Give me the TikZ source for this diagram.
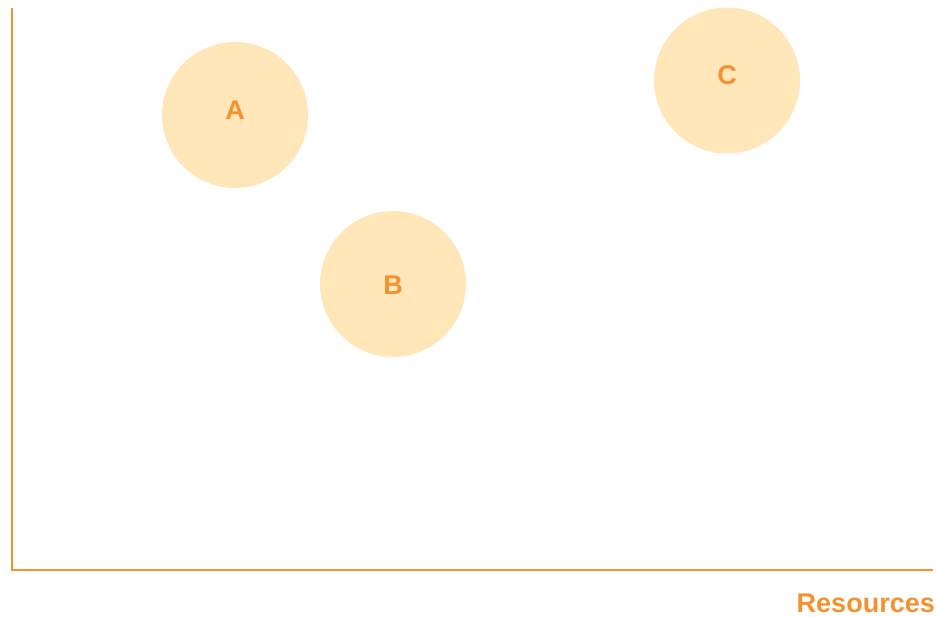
\documentclass[tikz,border=0pt]{standalone}
\usepackage{fontspec}
\setmainfont{Liberation Sans}
\usetikzlibrary{positioning}
\definecolor{AxisOrange}{HTML}{F5922F}
\definecolor{BubbleFill}{HTML}{FFE7BA}

\begin{document}
\begin{tikzpicture}[x=1pt, y=1pt, every node/.style={font=\fontsize{27}{30}\selectfont\bfseries, text=AxisOrange}]
    \useasboundingbox (0,0) rectangle (936,616);

    % axes
    \coordinate (origin) at (12,46);
    \coordinate (ytop) at (12,608);
    \coordinate (xend) at (933,46);
    \draw[AxisOrange, line width=2.3pt] (ytop) -- (origin) -- (xend);
    \node[anchor=base east, inner sep=0pt] (resources) at (935,4) {Resources};

    % bubbles
    \node[circle, fill=BubbleFill, minimum size=146pt, inner sep=0pt, label={[yshift=5pt]center:A}] (bubbleA) at (235,501) {};
    \node[circle, fill=BubbleFill, minimum size=146pt, inner sep=0pt, label={[yshift=-1pt]center:B}] (bubbleB) at (393,332) {};
    \node[circle, fill=BubbleFill, minimum size=146pt, inner sep=0pt, label={[yshift=5pt]center:C}] (bubbleC) at (727,535.5) {};
\end{tikzpicture}
\end{document}
